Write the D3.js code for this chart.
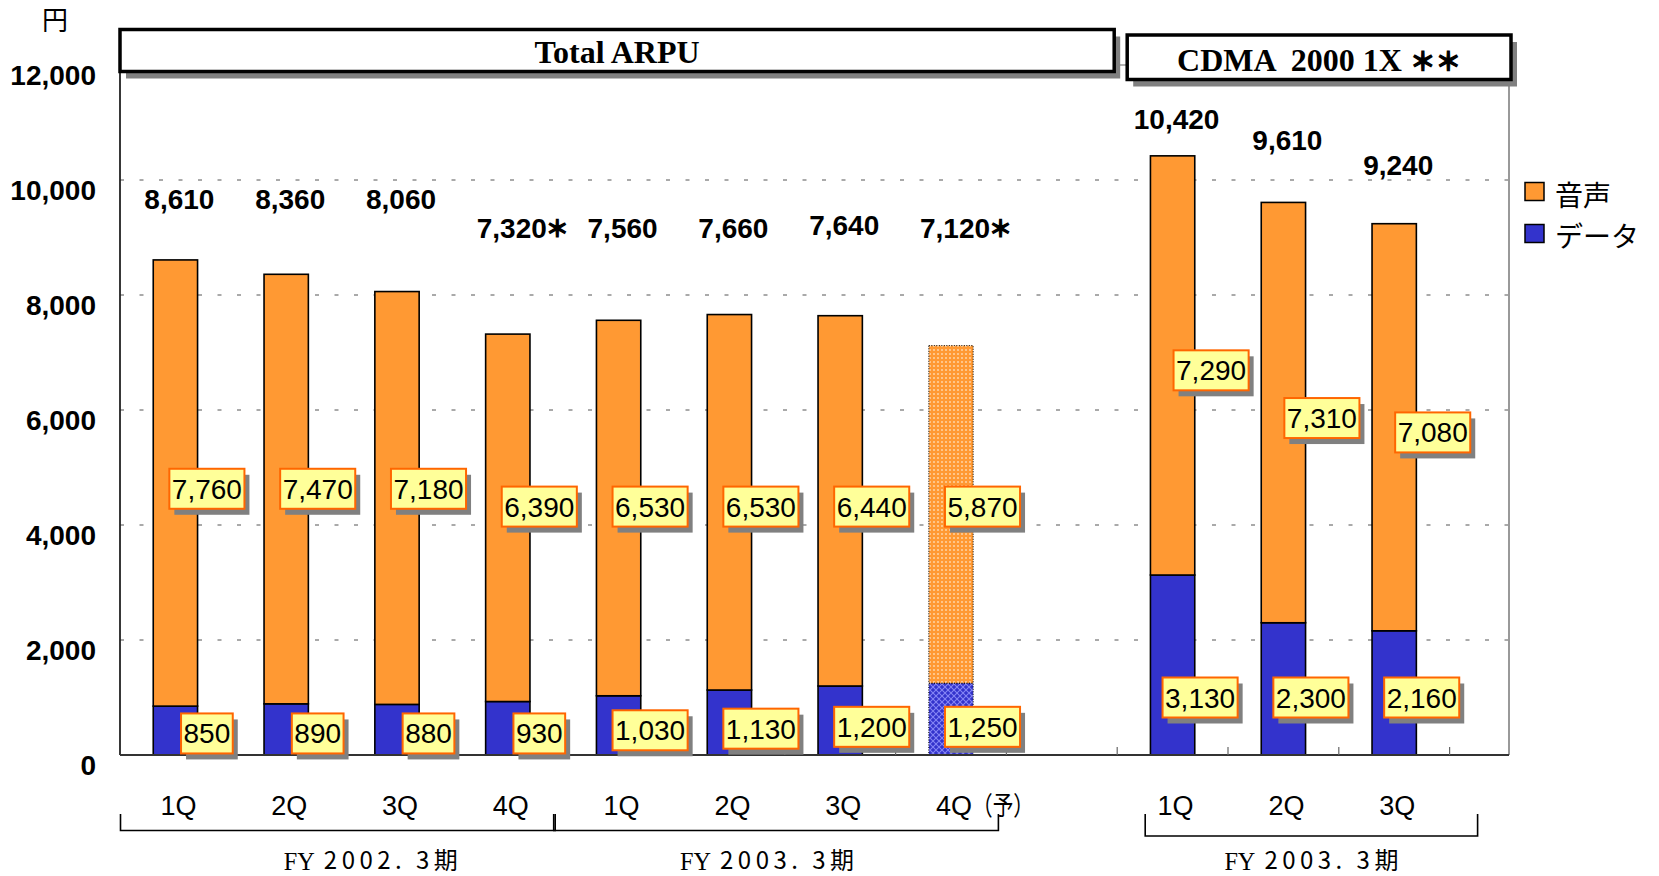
<!DOCTYPE html>
<html><head><meta charset="utf-8">
<script src="https://cdn.jsdelivr.net/npm/d3@7"></script>
<style>html,body{margin:0;padding:0;background:#fff;} svg{display:block;}</style>
</head><body>
<svg id="chart" width="1659" height="876"></svg>
<script>
// ---------------- data ----------------
const categories    = ["1Q","2Q","3Q","4Q","1Q","2Q","3Q","4Q","1Q","2Q","3Q"];
const categoryNotes = ["","","","","","","","（予）","","",""];
const periodOf      = ["FY2002","FY2002","FY2002","FY2002","FY2003","FY2003","FY2003","FY2003","CDMA","CDMA","CDMA"];
const voiceValues   = [7760,7470,7180,6390,6530,6530,6440,5870,7290,7310,7080];
const dataValues    = [850,890,880,930,1030,1130,1200,1250,3130,2300,2160];
const totalValues   = [8610,8360,8060,7320,7560,7660,7640,7120,10420,9610,9240];
const totalMarks    = ["","","","＊","","","","＊","","",""];
const isForecast    = [false,false,false,false,false,false,false,true,false,false,false];
const yTickValues   = [0,2000,4000,6000,8000,10000,12000];
const seriesNames   = ["音声","データ"];
const groupIds      = ["FY2002","FY2003","CDMA"];
const groupPrefix   = ["FY","FY","FY"];
const groupPeriods  = ["2002. 3期","2003. 3期","2003. 3期"];
const panelTitles   = ["Total ARPU","CDMA  2000 1X ＊＊"];
const unitLabel     = "円";

// label anchors (in data units)
const totalLabelLevel = [9500,9500,9500,9000,9000,9000,9040,9000,10880,10530,10080];
const voiceLabelLevel = [4630,4630,4630,4320,4320,4320,4320,4320,6690,5860,5610];
const dataLabelLevel  = [375,375,375,375,430,458,490,490,1000,1000,1000];

// ---------------- layout ----------------
const svg = d3.select("#chart");
const plotLeft = 120, plotTop = 65, plotBottom = 755, plotRight = 1509;
const step = 110.8;
const ORANGE = "#FF9933", BLUE = "#3333CC";
const numFont = "'Liberation Sans', Arial, sans-serif";
const cjkFont = "'Noto Sans CJK JP', sans-serif";
const serifFont = "'Liberation Serif', 'Times New Roman', serif";

const slotKeys = categories.map((c, i) => periodOf[i] + "-" + c);
const slotDomain = [...slotKeys.slice(0, 8), "gap", ...slotKeys.slice(8)];
const x = d3.scaleBand().domain(slotDomain).range([plotLeft, plotLeft + step * slotDomain.length]).padding(0);
const y = d3.scaleLinear().domain([0, 12000]).range([plotBottom, plotTop]);
const bw = x.bandwidth() * 0.4;
const cx = k => x(k) + x.bandwidth() / 2;

// patterns for forecast bar
const defs = svg.append("defs");
const pOr = defs.append("pattern").attr("id", "dotsOrange").attr("patternUnits", "userSpaceOnUse")
  .attr("width", 4).attr("height", 4);
pOr.append("rect").attr("width", 4).attr("height", 4).attr("fill", ORANGE);
pOr.append("rect").attr("x", 1.3).attr("y", 1.3).attr("width", 1.4).attr("height", 1.4).attr("fill", "#FFF3E0");
const pBl = defs.append("pattern").attr("id", "hatchBlue").attr("patternUnits", "userSpaceOnUse")
  .attr("width", 6).attr("height", 6);
pBl.append("rect").attr("width", 6).attr("height", 6).attr("fill", BLUE);
pBl.append("path").attr("d", "M0,0 L6,6 M6,0 L0,6").attr("stroke", "#8585F5").attr("stroke-width", 1.1);

// ---------------- gridlines ----------------
svg.append("g").selectAll("line").data(yTickValues.filter(t => t > 0 && t < 12000)).join("line")
  .attr("x1", plotLeft).attr("x2", plotRight)
  .attr("y1", d => y(d)).attr("y2", d => y(d))
  .attr("stroke", "#555").attr("stroke-width", 1).attr("stroke-dasharray", "4,15.5");

// frame
svg.append("line").attr("x1", plotLeft).attr("x2", plotRight).attr("y1", plotTop).attr("y2", plotTop)
  .attr("stroke", "#999").attr("stroke-width", 1.5);
svg.append("line").attr("x1", plotRight).attr("x2", plotRight).attr("y1", plotTop).attr("y2", plotBottom)
  .attr("stroke", "#999").attr("stroke-width", 2);

// y tick labels
svg.append("g").selectAll("text").data(yTickValues).join("text")
  .attr("x", 96).attr("y", d => y(d) + 20).attr("text-anchor", "end")
  .style("font-family", numFont).style("font-weight", "bold").style("font-size", "28px")
  .text(d => d3.format(",")(d));

svg.append("text").attr("x", 55).attr("y", 30).attr("text-anchor", "middle")
  .style("font-family", cjkFont).style("font-size", "26px").text(unitLabel);

// ---------------- bars ----------------
const rows = categories.map((c, i) => ({ key: slotKeys[i], i, data: dataValues[i], voice: voiceValues[i] }));
const stacked = d3.stack().keys(["data", "voice"])(rows);
const gBars = svg.append("g");
stacked.forEach(series => {
  gBars.selectAll(null).data(series).join("rect")
    .attr("x", d => cx(d.data.key) - bw / 2)
    .attr("width", bw)
    .attr("y", d => y(d[1]))
    .attr("height", d => y(d[0]) - y(d[1]))
    .attr("fill", d => isForecast[d.data.i]
      ? (series.key === "voice" ? "url(#dotsOrange)" : "url(#hatchBlue)")
      : (series.key === "voice" ? ORANGE : BLUE))
    .attr("stroke", "#000")
    .attr("stroke-width", d => isForecast[d.data.i] ? 1 : 1.6)
    .attr("stroke-dasharray", d => isForecast[d.data.i] ? "1,1.5" : null);
});

// left axis & baseline
svg.append("line").attr("x1", plotLeft).attr("x2", plotLeft).attr("y1", plotTop).attr("y2", plotBottom)
  .attr("stroke", "#222").attr("stroke-width", 1.8);
svg.append("line").attr("x1", plotLeft).attr("x2", plotRight).attr("y1", plotBottom).attr("y2", plotBottom)
  .attr("stroke", "#333").attr("stroke-width", 2);
svg.append("g").selectAll("line").data(slotDomain.slice(1).map(k => x(k)).concat([x.range()[1]])).join("line")
  .attr("x1", d => d).attr("x2", d => d).attr("y1", plotBottom).attr("y2", plotBottom - 8)
  .attr("stroke", "#666").attr("stroke-width", 1.2);

// ---------------- helper: text with heavy asterisks ----------------
function appendMixed(textSel, str, fontFamily) {
  str.split(/(＊+)/).filter(s => s.length).forEach(part => {
    const ts = textSel.append("tspan").text(part);
    if (part.startsWith("＊")) {
      ts.style("font-family", cjkFont).style("font-size", "0.8em")
        .attr("stroke", "#000").attr("stroke-width", 1.2);
    } else {
      ts.style("font-family", fontFamily);
    }
  });
}

// ---------------- title boxes ----------------
function titleBox(x1, x2, y1, y2, txt) {
  const g = svg.append("g");
  g.append("rect").attr("x", x1 + 6).attr("y", y1 + 7).attr("width", x2 - x1).attr("height", y2 - y1).attr("fill", "#808080");
  g.append("rect").attr("x", x1).attr("y", y1).attr("width", x2 - x1).attr("height", y2 - y1)
    .attr("fill", "#fff").attr("stroke", "#000").attr("stroke-width", 3.5);
  const t = g.append("text").attr("x", (x1 + x2) / 2).attr("y", y2 - 8.5).attr("text-anchor", "middle")
    .attr("xml:space", "preserve").style("white-space", "pre")
    .style("font-weight", "bold").style("font-size", "32px");
  appendMixed(t, txt, serifFont);
}
const gapEnd = x("gap") + x.bandwidth();
titleBox(plotLeft, gapEnd - 3, 29.5, 71.5, panelTitles[0]);
titleBox(gapEnd + 10, plotRight + 2, 35, 79.5, panelTitles[1]);

// ---------------- total labels ----------------
const gTot = svg.append("g");
totalValues.forEach((v, i) => {
  const c = cx(slotKeys[i]) + 4;
  const yy = y(totalLabelLevel[i]);
  const t = gTot.append("text").attr("x", c).attr("y", yy).attr("text-anchor", "middle")
    .style("font-family", numFont).style("font-weight", "bold").style("font-size", "28px")
    .text(d3.format(",")(v));
  if (totalMarks[i]) {
    const w = t.node().getComputedTextLength();
    gTot.append("text").attr("x", c + w / 2 - 1).attr("y", yy - 1)
      .style("font-family", cjkFont).style("font-weight", "bold").style("font-size", "23px")
      .attr("stroke", "#000").attr("stroke-width", 1.2)
      .text(totalMarks[i]);
  }
});

// ---------------- value boxes ----------------
const gBox = svg.append("g");
function valueBox(centerX, centerY, txt) {
  const g = gBox.append("g");
  const sh = g.append("rect").attr("fill", "#808080");
  const bx = g.append("rect").attr("fill", "#FFFF99").attr("stroke", "#FF6600").attr("stroke-width", 2);
  const t = g.append("text").attr("x", centerX).attr("y", centerY + 10).attr("text-anchor", "middle")
    .style("font-family", numFont).style("font-size", "28px").text(txt);
  const w = t.node().getComputedTextLength() + 5, h = 40;
  bx.attr("x", centerX - w / 2).attr("y", centerY - h / 2).attr("width", w).attr("height", h);
  sh.attr("x", centerX - w / 2 + 5).attr("y", centerY - h / 2 + 6).attr("width", w).attr("height", h);
}
categories.forEach((c, i) => {
  const isCdma = periodOf[i] === "CDMA";
  const base = cx(slotKeys[i]);
  valueBox(base + (isCdma ? 38.5 : 31.5), y(voiceLabelLevel[i]), d3.format(",")(voiceValues[i]));
  valueBox(base + (isCdma ? 27.5 : 31.5), y(dataLabelLevel[i]), d3.format(",")(dataValues[i]));
});

// ---------------- category labels ----------------
const gCat = svg.append("g");
categories.forEach((c, i) => {
  const cc = cx(slotKeys[i]) + 3;
  const t = gCat.append("text").attr("x", cc).attr("y", 815).attr("text-anchor", "middle")
    .style("font-family", numFont).style("font-size", "27px").text(c);
  if (categoryNotes[i]) {
    const w = t.node().getComputedTextLength();
    gCat.append("text").attr("x", cc + w / 2).attr("y", 815)
      .attr("textLength", 62).attr("lengthAdjust", "spacingAndGlyphs")
      .style("font-family", cjkFont).style("font-size", "26px").text(categoryNotes[i]);
  }
});

// ---------------- group brackets ----------------
const gGrp = svg.append("g");
const groupLabelNudge = [33, -9, 0];
groupIds.forEach((gid, gi) => {
  const keys = slotKeys.filter((k, i) => periodOf[i] === gid);
  const isCdma = gid === "CDMA";
  const x1 = isCdma ? x(keys[0]) + 28 : (gi === 0 ? x(keys[0]) + 0.5 : x(keys[0]) - 9.5);
  const x2 = x(keys[keys.length - 1]) + x.bandwidth() + (isCdma ? 28 : -8);
  const yb = isCdma ? 836 : 830.5;
  gGrp.append("path").attr("d", `M${x1},814 V${yb} H${x2} V814`)
    .attr("fill", "none").attr("stroke", "#000").attr("stroke-width", 1.6);
  const center = (x1 + x2) / 2 + groupLabelNudge[gi];
  const pre = gGrp.append("text").attr("y", 870)
    .attr("textLength", 31).attr("lengthAdjust", "spacingAndGlyphs")
    .style("font-family", serifFont).style("font-size", "26px").text(groupPrefix[gi]);
  const wPre = 31 + 9;
  const restW = 134;
  const start = center - (wPre + restW) / 2;
  pre.attr("x", start);
  gGrp.append("text").attr("x", start + wPre).attr("y", 869)
    .attr("xml:space", "preserve").style("white-space", "pre")
    .attr("textLength", restW).attr("lengthAdjust", "spacing")
    .style("font-family", cjkFont).style("font-size", "24px").text(groupPeriods[gi]);
});

// ---------------- legend ----------------
const legend = svg.append("g");
[[ORANGE, seriesNames[0], 182.5, 206], [BLUE, seriesNames[1], 224.5, 247]].forEach(([col, name, sy, ty]) => {
  legend.append("rect").attr("x", 1525).attr("y", sy).attr("width", 19).attr("height", 18)
    .attr("fill", col).attr("stroke", "#000").attr("stroke-width", 1.5);
  legend.append("text").attr("x", 1555).attr("y", ty)
    .style("font-family", cjkFont).style("font-size", "28px").text(name);
});
</script>
</body></html>
